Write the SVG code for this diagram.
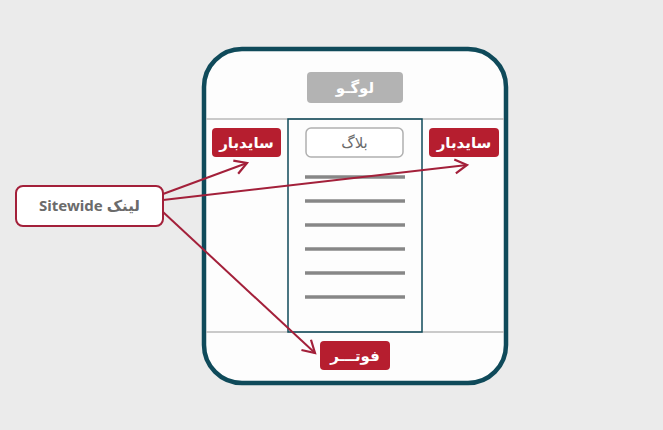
<svg xmlns="http://www.w3.org/2000/svg" width="663" height="430" viewBox="0 0 663 430">
<defs>
<style>
.red{fill:#b61e2f}
.wt{fill:#fff;font-family:"Noto Sans","DejaVu Sans",sans-serif;font-weight:bold;font-size:15px;text-anchor:middle}
.gt{fill:#6b6b6b;font-family:"Noto Sans","DejaVu Sans",sans-serif;font-size:15px;text-anchor:middle}
.bar{stroke:#878787;stroke-width:3.5}
.conn{fill:none;stroke:#a3203a;stroke-width:2}
</style>
<marker id="ah" markerUnits="userSpaceOnUse" markerWidth="20" markerHeight="20" refX="14" refY="8" orient="auto" viewBox="0 0 20 16">
<path d="M2,1 L14,8 L2,15" fill="none" stroke="#a3203a" stroke-width="2.2"/>
</marker>
</defs>
<rect width="663" height="430" fill="#ebebeb"/>
<g id="frame">
<rect x="204" y="49" width="302" height="334" rx="38" fill="#fdfdfd" stroke="#0f4a5a" stroke-width="4.5"/>
<line x1="206" y1="119" x2="504" y2="119" stroke="#b9b9b9" stroke-width="1.5"/>
<line x1="206" y1="332" x2="504" y2="332" stroke="#b9b9b9" stroke-width="1.5"/>
</g>
<g id="content">
<rect x="288" y="119" width="134" height="213" fill="none" stroke="#0f4a5a" stroke-width="1.5"/>
<line class="bar" x1="305" y1="177" x2="405" y2="177"/>
<line class="bar" x1="305" y1="201" x2="405" y2="201"/>
<line class="bar" x1="305" y1="225" x2="405" y2="225"/>
<line class="bar" x1="305" y1="249" x2="405" y2="249"/>
<line class="bar" x1="305" y1="273" x2="405" y2="273"/>
<line class="bar" x1="305" y1="297" x2="405" y2="297"/>
</g>
<g id="logo">
<rect x="307" y="72" width="96" height="31" rx="4" fill="#b3b3b3"/>
<text class="wt" x="355" y="93">لوگـو</text>
</g>
<g id="blog">
<rect x="306" y="128" width="97" height="29" rx="5" fill="#fff" stroke="#b0b0b0" stroke-width="1.5"/>
<text class="gt" x="354.5" y="148">بلاگ</text>
</g>
<g id="sidebar-left">
<rect class="red" x="212" y="128" width="69" height="29" rx="4"/>
<text class="wt" x="246.5" y="148">سایدبار</text>
</g>
<g id="sidebar-right">
<rect class="red" x="429" y="128" width="70" height="29" rx="4"/>
<text class="wt" x="464" y="148">سایدبار</text>
</g>
<g id="footer">
<rect class="red" x="320" y="341" width="70" height="29" rx="4"/>
<text class="wt" x="355" y="361">فوتـــر</text>
</g>
<g id="sitewide">
<rect x="16" y="186" width="147" height="40" rx="7" fill="#fff" stroke="#a3203a" stroke-width="2"/>
<text class="gt" x="89.5" y="211" direction="rtl" style="font-weight:bold">لینک Sitewide</text>
</g>
<g id="connectors">
<line class="conn" x1="163" y1="194" x2="247" y2="163" marker-end="url(#ah)"/>
<line class="conn" x1="163" y1="200" x2="467" y2="165" marker-end="url(#ah)"/>
<line class="conn" x1="163" y1="212" x2="315" y2="353" marker-end="url(#ah)"/>
</g>
</svg>
